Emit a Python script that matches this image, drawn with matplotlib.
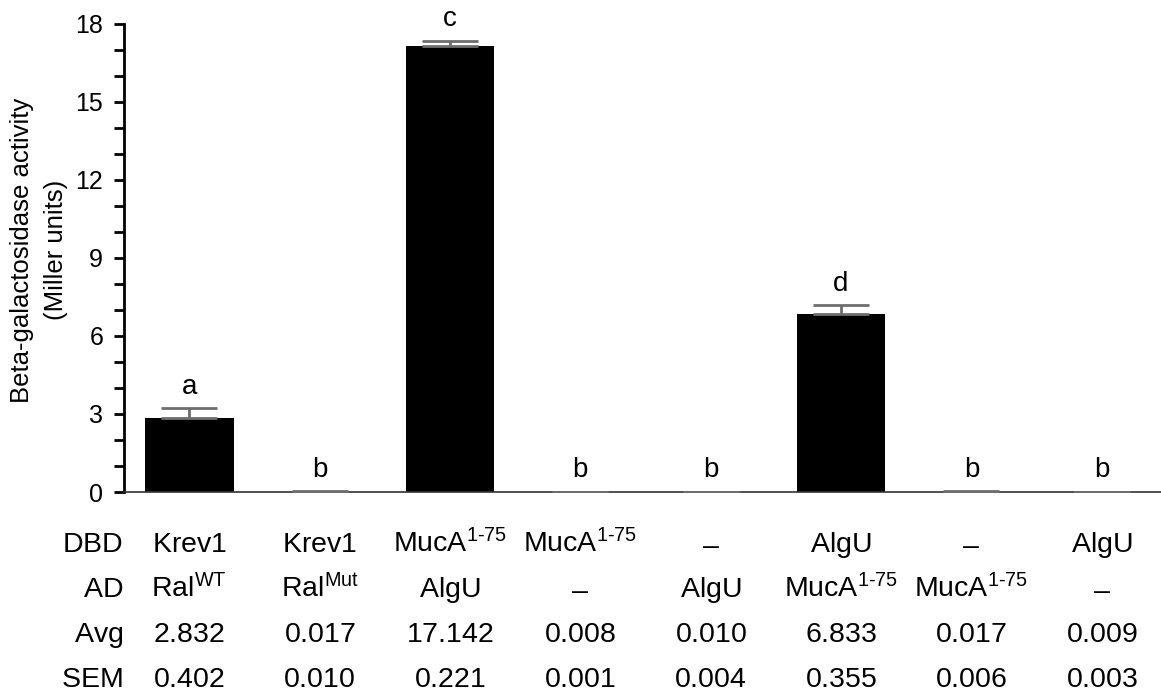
import numpy as np
import matplotlib
matplotlib.use('Agg')
import matplotlib.pyplot as plt
import matplotlib.transforms as mtransforms

plt.rcParams['font.family'] = ['Liberation Sans', 'DejaVu Sans']
plt.rcParams['mathtext.fontset'] = 'custom'
plt.rcParams['mathtext.rm'] = 'Liberation Sans'
plt.rcParams['mathtext.it'] = 'Liberation Sans:italic'
plt.rcParams['mathtext.bf'] = 'Liberation Sans:bold'

# data
dbd = ['Krev1', 'Krev1', 'MucA^1-75', 'MucA^1-75', '\u2013', 'AlgU', '\u2013', 'AlgU']
ad = ['Ral^WT', 'Ral^Mut', 'AlgU', '\u2013', 'AlgU', 'MucA^1-75', 'MucA^1-75', '\u2013']
avg = [2.832, 0.017, 17.142, 0.008, 0.010, 6.833, 0.017, 0.009]
sem = [0.402, 0.010, 0.221, 0.001, 0.004, 0.355, 0.006, 0.003]
letters = ['a', 'b', 'c', 'b', 'b', 'd', 'b', 'b']
yticks = [0, 3, 6, 9, 12, 15, 18]


def cell(s):
    # every cell goes through mathtext so the baselines line up
    if '^' in s:
        base, sup = s.split('^')
        return r'$\text{%s}^{\text{%s}}$' % (base, sup)
    return r'$\text{%s}$' % s


W, H = 1161, 692
fig = plt.figure(figsize=(W / 100, H / 100), dpi=100)
# axes runs a bit past the right edge, like the original
ax = fig.add_axes([124 / W, (H - 492) / H, 1043 / W, 468 / H])

x = np.arange(len(avg))
ax.bar(x, avg, width=0.68, color='black', zorder=2)
ax.errorbar(x, avg, yerr=[np.zeros(len(sem)), sem], fmt='none',
            ecolor='#6e6e6e', elinewidth=2, capsize=20, capthick=2, zorder=3)

for xi, a, s, lab in zip(x, avg, sem, letters):
    ax.annotate(lab, (xi, a + s), xytext=(0, 6), textcoords='offset points',
                ha='center', va='bottom', fontsize=20)

ax.set_xlim(-0.5, len(avg) - 0.5)
ax.set_ylim(0, 18)
ax.set_yticks(yticks)
ax.set_yticks(np.arange(0, 19, 1), minor=True)
ax.tick_params(axis='y', which='both', direction='out', length=7, width=2,
               labelsize=18, pad=8)
ax.set_xticks([])
ax.spines['top'].set_visible(False)
ax.spines['right'].set_visible(False)
ax.spines['left'].set_linewidth(2)
ax.spines['bottom'].set_linewidth(1.2)
ax.spines['bottom'].set_color('#333333')

fig.text(22 / W, 1 - 250 / H, 'Beta-galactosidase activity', rotation=90,
         ha='center', va='center', fontsize=18.5)
fig.text(56 / W, 1 - 250 / H, '(Miller units)', rotation=90,
         ha='center', va='center', fontsize=18.5)

# table under the chart
trans = mtransforms.blended_transform_factory(ax.transData, fig.transFigure)
rows = [('DBD', dbd), ('AD', ad),
        ('Avg', ['%.3f' % v for v in avg]),
        ('SEM', ['%.3f' % v for v in sem])]
baselines = [552, 597, 642, 687]
for (name, vals), yb in zip(rows, baselines):
    yf = 1 - yb / H
    fig.text(123 / W, yf, cell(name), ha='right', va='baseline', fontsize=20.5)
    for xi, v in zip(x, vals):
        ax.text(xi, yf, cell(v), transform=trans, ha='center', va='baseline',
                fontsize=20.5, clip_on=False)

fig.savefig('out.png', dpi=100)
